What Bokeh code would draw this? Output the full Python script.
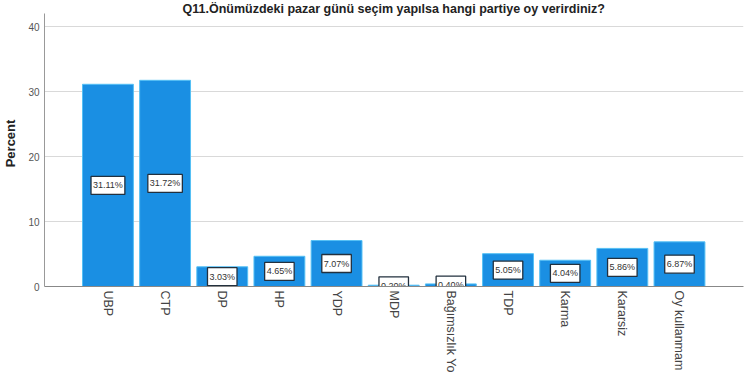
import math
from bokeh.plotting import figure
from bokeh.models import ColumnDataSource, Label, FixedTicker, Range1d
from bokeh.core.properties import value
from bokeh.embed import file_html
from bokeh.resources import INLINE

categories = ["UBP", "CTP", "DP", "HP", "YDP", "MDP", "Bağımsızlık Yo", "TDP", "Karma", "Kararsiz", "Oy kullanmam"]
percents = [31.11, 31.72, 3.03, 4.65, 7.07, 0.20, 0.40, 5.05, 4.04, 5.86, 6.87]
y_ticks = [0, 10, 20, 30, 40]
title_text = "Q11.Önümüzdeki pazar günü seçim yapılsa hangi partiye oy verirdiniz?"

xs = list(range(len(categories)))
src = ColumnDataSource(dict(
    x=xs,
    top=percents,
    mid=[v / 2 for v in percents],
    lab=[f"{v:.2f}%" for v in percents],
))

p = figure(width=750, height=375, output_backend="svg", toolbar_location=None,
           x_range=Range1d(-1.11, 11.12), y_range=Range1d(0, 44),
           min_border_left=44, min_border_right=7, min_border_top=0, min_border_bottom=89)
p.outline_line_color = None
p.background_fill_color = "white"

p.vbar(x="x", top="top", width=0.89, source=src,
       fill_color="#1a8fe3", line_color="#55c0f5", line_width=1)

p.text(x="x", y="mid", text="lab", source=src,
       text_align="center", text_baseline="middle",
       text_font=value("Liberation Sans"), text_font_size="9px", text_color="#333333",
       background_fill_color="white", border_line_color="#22303e", border_line_width=1.3,
       padding=(2, 4))

title = Label(x=5.0, y=42.75, text=title_text, text_align="center", text_baseline="alphabetic",
              text_font="Liberation Sans", text_font_style="bold", text_font_size="12.5px",
              text_color="#222222")
p.add_layout(title)

p.xgrid.grid_line_color = None
p.ygrid.grid_line_color = "#d9d9d9"
p.ygrid.ticker = FixedTicker(ticks=y_ticks)

p.yaxis.ticker = FixedTicker(ticks=y_ticks)
p.yaxis.bounds = (0, 42)
p.yaxis.axis_label = "Percent"
p.yaxis.axis_label_text_font = "Liberation Sans"
p.yaxis.axis_label_text_font_style = "bold"
p.yaxis.axis_label_text_font_size = "13px"
p.yaxis.axis_label_text_color = "#222222"
p.yaxis.axis_label_standoff = 7
p.yaxis.major_label_text_font = "Liberation Sans"
p.yaxis.major_label_text_font_size = "10px"
p.yaxis.major_label_text_color = "#555555"
p.yaxis.major_label_standoff = 5
p.yaxis.major_tick_out = 0
p.yaxis.major_tick_in = 0
p.yaxis.minor_tick_out = 0
p.yaxis.minor_tick_in = 0
p.yaxis.axis_line_color = "#999999"

p.xaxis.ticker = FixedTicker(ticks=xs)
p.xaxis.major_label_overrides = {i: c for i, c in zip(xs, categories)}
p.xaxis.major_label_orientation = -math.pi / 2
p.xaxis.major_label_text_font = "Liberation Sans"
p.xaxis.major_label_text_font_size = "12.5px"
p.xaxis.major_label_text_color = "#444444"
p.xaxis.major_label_standoff = 4
p.xaxis.major_tick_out = 0
p.xaxis.major_tick_in = 0
p.xaxis.minor_tick_out = 0
p.xaxis.minor_tick_in = 0
p.xaxis.axis_line_color = "#888888"

open("out.html", "w").write(file_html(p, INLINE))
